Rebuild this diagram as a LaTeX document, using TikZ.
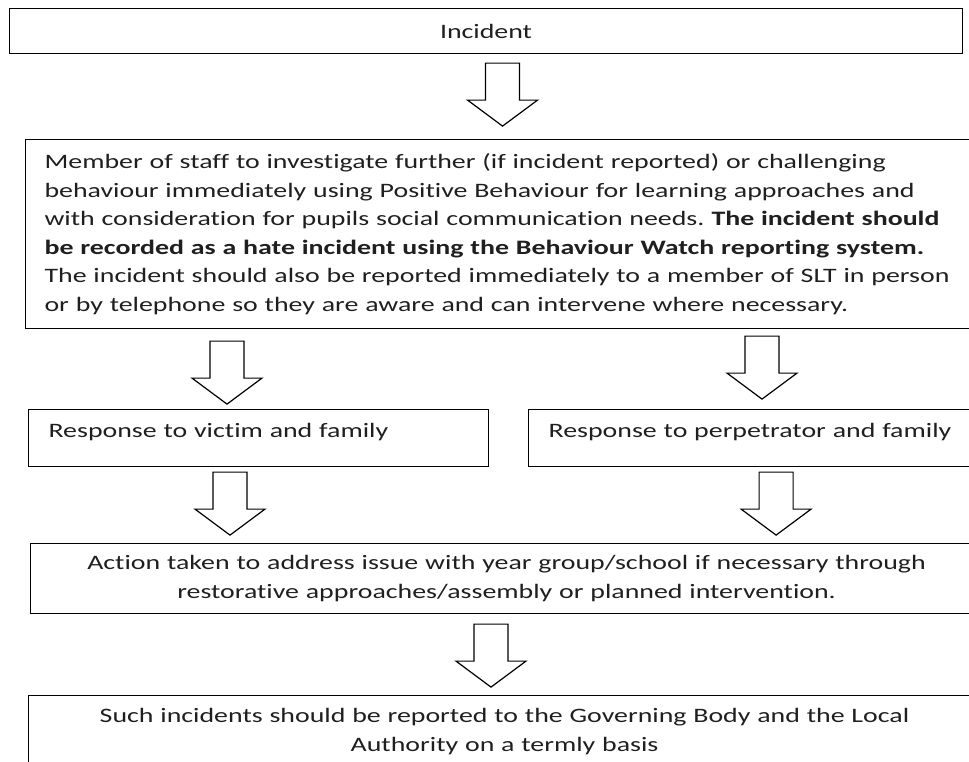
\documentclass[tikz,border=0pt]{standalone}
\usepackage{fontspec}
\setmainfont[FakeStretch=1.36, Ligatures=NoCommon]{Carlito}
\usepackage{tikz}
\usetikzlibrary{positioning}
\frenchspacing

\tikzset{
	downarrow/.pic={
		\draw[line width=1.2pt, line join=miter, fill=white] (-17,0) -- (17,0) -- (17,37) -- (35,37) -- (0,63) -- (-35,37) -- (-17,37) -- cycle;
	}
}

\begin{document}
\begin{tikzpicture}[x=1pt, y=-1pt, font=\fontsize{20.5}{28.5}\selectfont, text=black!88,
		box/.style={draw, line width=1.1pt, inner ysep=0pt},
		widebox/.style={box, anchor=north west, text width=912pt, inner xsep=20pt, align=center},
		sidebox/.style={box, text width=420pt, inner xsep=20pt, inner ysep=8pt, text height=20pt, text depth=21pt, align=left}]
		\clip (0,0) rectangle (969,761);
		\node[box, anchor=north west, minimum width=953pt, minimum height=45pt] (incident) at (9,8) {Incident};
		\node[box, anchor=north west, text width=919pt, inner xsep=19pt, minimum height=189pt, align=left] (staff) at (25,139) {Member of staff to investigate further (if incident reported) or challenging\\
			behaviour immediately using Positive Behaviour for learning approaches and\\
			with consideration for pupils social communication needs. \textbf{The incident should}\\
			\textbf{be recorded as a hate incident using the Behaviour Watch reporting system.}\\
			The incident should also be reported immediately to a member of SLT in person\\
			or by telephone so they are aware and can intervene where necessary.};
		\node[sidebox, anchor=north west] (victim) at (28,409) {Response to victim and family};
		\node[sidebox, right=39pt of victim] (perpetrator) {Response to perpetrator and family};
		\node[widebox, minimum height=70pt] (action) at (30,543) {Action taken to address issue with year group/school if necessary through\\
			restorative approaches/assembly or planned intervention.};
		\node[widebox, minimum height=72pt] (report) at (28,695) {Such incidents should be reported to the Governing Body and the Local\\
			Authority on a termly basis};
		% block arrows between the boxes
		\path (incident.south) ++(16.5,9) pic {downarrow};
		\path (staff.south west) ++(202,12) pic {downarrow};
		\path (staff.south west) ++(737,7) pic {downarrow};
		\path (victim.south west) ++(202,5) pic {downarrow};
		\path (perpetrator.south west) ++(248,5) pic {downarrow};
		\path (action.south west) ++(461,10) pic {downarrow};
	\end{tikzpicture}
\end{document}
